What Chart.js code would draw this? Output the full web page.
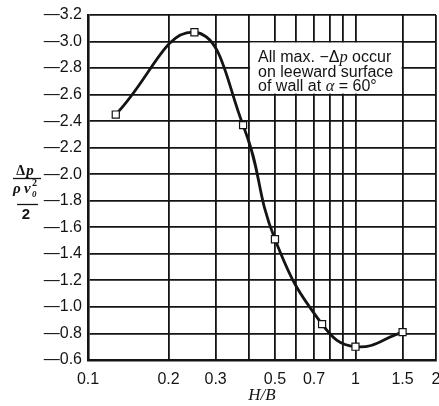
<!DOCTYPE html>
<html>
<head>
<meta charset="utf-8">
<script src="https://cdn.jsdelivr.net/npm/chart.js@4/dist/chart.umd.min.js"></script>
<style>
  html, body { margin: 0; padding: 0; background: #fff; }
  #wrap { width: 439px; height: 406px; }
</style>
</head>
<body>
<div id="wrap"><canvas id="c" width="439" height="406"></canvas></div>
<script>
// H/B values of the measured points
const hbValues = [0.127, 0.25, 0.38, 0.5, 0.75, 1.0, 1.5];
// Δp / (ρ v0² / 2)
const dpValues = [-2.45, -3.07, -2.37, -1.51, -0.87, -0.70, -0.81];
// vertical grid positions on the log H/B axis
const xGridValues = [0.1, 0.2, 0.3, 0.4, 0.5, 0.6, 0.7, 0.8, 0.9, 1, 1.5, 2];
// which of them carry a label
const xLabeledValues = [0.1, 0.2, 0.3, 0.5, 0.7, 1, 1.5, 2];
const xTickLabels = ['0.1', '0.2', '0.3', '0.5', '0.7', '1', '1.5', '2'];
// y axis range and step
const yMin = -3.2, yMax = -0.6, yStep = 0.2;
// annotation text
const noteLines = [
  [['All max. \u2212\u0394', 'n'], ['p', 'i'], [' occur', 'n']],
  [['on leeward surface', 'n']],
  [['of wall at ', 'n'], ['\u03b1', 'i'], [' = 60\u00b0', 'n']]
];
const noteBox = { x0: 0.4, x1: 1.5, y0: -3.0, y1: -2.6 };

const INK = '#141414';

function drawSegs(ctx, x, y, segs, fonts) {
  let cx = x;
  for (const [t, f] of segs) {
    ctx.font = fonts[f];
    ctx.fillText(t, cx, y);
    cx += ctx.measureText(t).width;
  }
}

const decorations = {
  id: 'decorations',
  beforeDatasetsDraw(chart) {
    const ctx = chart.ctx;
    const xs = chart.scales.x, ys = chart.scales.y;
    const l = xs.getPixelForValue(noteBox.x0), r = xs.getPixelForValue(noteBox.x1);
    const t = ys.getPixelForValue(noteBox.y0), b = ys.getPixelForValue(noteBox.y1);
    ctx.save();
    ctx.fillStyle = '#fff';
    ctx.fillRect(l + 1, t + 1, r - l - 2, b - t - 2);
    ctx.fillStyle = INK;
    ctx.textBaseline = 'alphabetic';
    ctx.textAlign = 'left';
    const fonts = { n: '16px "Liberation Sans", Arial, sans-serif', i: 'italic 16.5px "Liberation Serif", serif' };
    const offs = [20.5, 35, 49];
    noteLines.forEach((segs, k) => drawSegs(ctx, l + 9, t + offs[k], segs, fonts));
    ctx.restore();
  },
  afterDraw(chart) {
    const ctx = chart.ctx;
    ctx.save();
    ctx.fillStyle = INK;
    ctx.strokeStyle = INK;
    ctx.textBaseline = 'alphabetic';
    ctx.textAlign = 'left';
    // numerator Δp
    ctx.font = 'bold 14px "Liberation Serif", serif';
    const wD = ctx.measureText('\u0394').width;
    ctx.font = 'italic bold 15px "Liberation Serif", serif';
    const wp = ctx.measureText('p').width;
    let x0 = 25 - (wD + wp + 1) / 2;
    ctx.font = 'bold 14px "Liberation Serif", serif';
    ctx.fillText('\u0394', x0, 175);
    ctx.font = 'italic bold 15px "Liberation Serif", serif';
    ctx.fillText('p', x0 + wD + 1, 175);
    ctx.lineWidth = 1.3;
    ctx.beginPath(); ctx.moveTo(13, 178.5); ctx.lineTo(41, 178.5); ctx.stroke();
    // ρ v0^2
    ctx.font = 'italic bold 15px "Liberation Serif", serif';
    ctx.fillText('\u03c1', 13, 193);
    ctx.fillText('v', 24, 193);
    ctx.font = 'italic bold 9px "Liberation Serif", serif';
    ctx.fillText('0', 32, 197);
    ctx.font = 'bold 10px "Liberation Serif", serif';
    ctx.fillText('2', 32, 186);
    ctx.beginPath(); ctx.moveTo(17, 204.5); ctx.lineTo(38, 204.5); ctx.stroke();
    ctx.font = 'bold 15px "Liberation Sans", Arial, sans-serif';
    ctx.textAlign = 'center';
    ctx.fillText('2', 26, 219);
    ctx.restore();
  }
};

new Chart(document.getElementById('c'), {
  type: 'scatter',
  data: {
    datasets: [{
      data: hbValues.map((v, i) => ({ x: v, y: dpValues[i] })),
      showLine: true,
      tension: 0.45,
      borderColor: INK,
      borderWidth: 2.8,
      pointStyle: 'rect',
      pointRadius: 5,
      pointBackgroundColor: '#fff',
      pointBorderColor: INK,
      pointBorderWidth: 1.2,
      clip: false
    }]
  },
  options: {
    responsive: false,
    animation: false,
    layout: { autoPadding: false, padding: { top: 15, right: 3, left: 0, bottom: 0 } },
    plugins: { legend: { display: false }, tooltip: { enabled: false } },
    scales: {
      x: {
        type: 'logarithmic',
        min: 0.1, max: 2,
        afterBuildTicks: s => { s.ticks = xGridValues.map(v => ({ value: v })); },
        afterFit: s => { s.height = 46; s.paddingLeft = 0; s.paddingRight = 0; },
        grid: { color: INK, lineWidth: 1.8, drawTicks: false },
        border: { color: INK, width: 2.6 },
        ticks: {
          autoSkip: false, maxRotation: 0, padding: 10, color: INK,
          font: { family: '"Liberation Sans", Arial, sans-serif', size: 16 },
          callback: v => {
            const k = xLabeledValues.findIndex(u => Math.abs(u - v) < 1e-9);
            return k >= 0 ? xTickLabels[k] : '';
          }
        },
        title: {
          display: true, text: 'H/B', color: INK, padding: { top: 0, bottom: 0 },
          font: { family: '"Liberation Serif", serif', style: 'italic', size: 17 }
        }
      },
      y: {
        reverse: true,
        min: yMin, max: yMax,
        afterFit: s => { s.width = 88; s.paddingTop = 0; s.paddingBottom = 0; },
        grid: { color: INK, lineWidth: 1.8, drawTicks: false },
        border: { color: INK, width: 2.6 },
        ticks: {
          stepSize: yStep, padding: 6, color: INK,
          font: { family: '"Liberation Sans", Arial, sans-serif', size: 16 },
          callback: v => '\u2014' + Math.abs(v).toFixed(1)
        }
      }
    }
  },
  plugins: [decorations]
});
</script>
</body>
</html>
